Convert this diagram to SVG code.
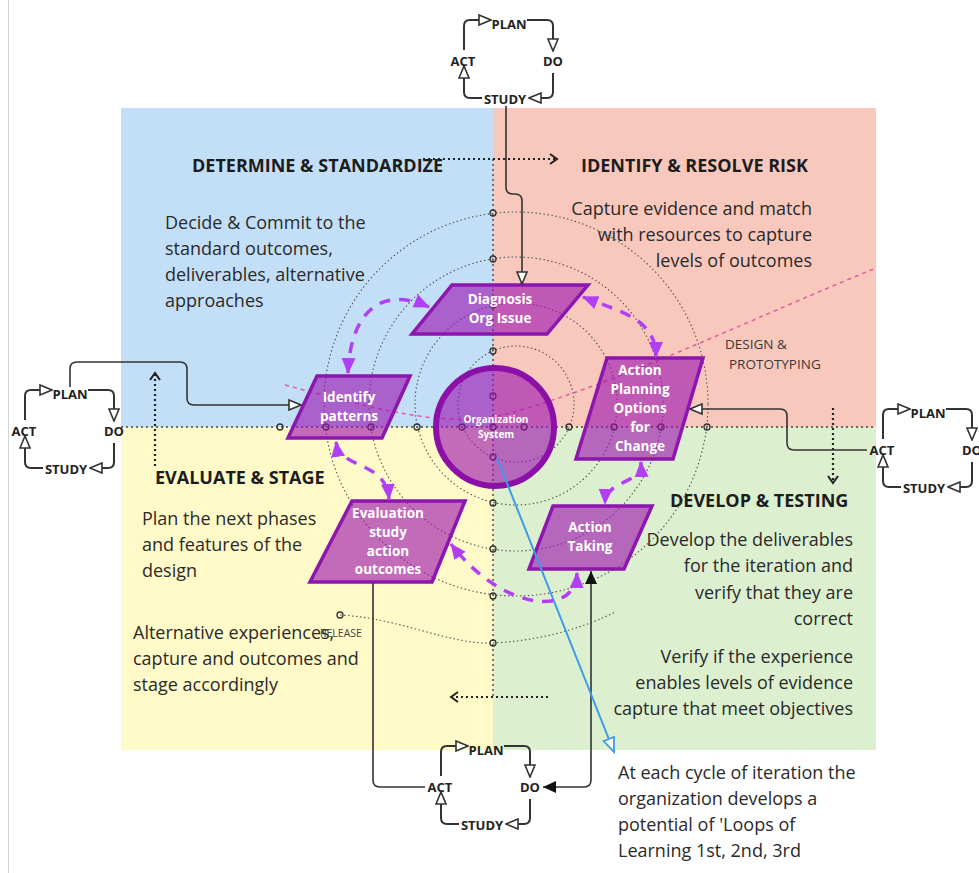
<svg xmlns="http://www.w3.org/2000/svg" width="979" height="873" viewBox="0 0 979 873">
<style>
  text { font-family: "Open Sans", "Noto Sans", "Liberation Sans", sans-serif; }
  .title { font-weight: 700; font-size: 18px; fill: #1c1c1c; }
  .body { font-size: 18px; fill: #2a2a2a; }
  .end { text-anchor: end; }
  .pdsa-line { fill: none; stroke: #333; stroke-width: 2; marker-end: url(#openTri); }
  .pdsa-text { font-weight: 700; font-size: 13px; fill: #222; text-anchor: middle; }
  .node-shape { fill: #9c14b0; fill-opacity: 0.62; stroke: #8c16ae; stroke-width: 3.5; }
  .node-text { font-weight: 700; font-size: 13.5px; fill: #fff; text-anchor: middle; }
  .ring { fill: none; stroke: #555; stroke-width: 1.1; stroke-dasharray: 1.5 2.5; }
  .axis { fill: none; stroke: #444; stroke-width: 1.4; stroke-dasharray: 2 3; }
  .axis-dot { fill: none; stroke: #333; stroke-width: 1.3; }
  .flow { fill: none; stroke: #222; stroke-width: 2.2; stroke-dasharray: 2 3; marker-end: url(#chevron); }
  .link { fill: none; stroke: #333; stroke-width: 1.6; }
  .cycle { fill: none; stroke: #b23ff5; stroke-width: 3.5; stroke-dasharray: 11 9; marker-start: url(#violetTri); marker-end: url(#violetTri); }
</style>
<defs>
  <marker id="openTri" viewBox="0 0 14 12" refX="13" refY="6" markerWidth="14" markerHeight="12" markerUnits="userSpaceOnUse" orient="auto">
    <path d="M1,1 L13,6 L1,11 z" fill="#fff" stroke="#333" stroke-width="1.6"/>
  </marker>
  <marker id="chevron" viewBox="0 0 10 12" refX="8" refY="6" markerWidth="10" markerHeight="12" markerUnits="userSpaceOnUse" orient="auto">
    <path d="M1,1 L8,6 L1,11" fill="none" stroke="#222" stroke-width="2"/>
  </marker>
  <marker id="solidTri" viewBox="0 0 14 14" refX="13" refY="7" markerWidth="14" markerHeight="14" markerUnits="userSpaceOnUse" orient="auto-start-reverse">
    <path d="M0,1 L13,7 L0,13 z" fill="#111"/>
  </marker>
  <marker id="violetTri" viewBox="0 0 16 16" refX="15" refY="8" markerWidth="16" markerHeight="16" markerUnits="userSpaceOnUse" orient="auto-start-reverse">
    <path d="M0,1 L16,8 L0,15 z" fill="#b23ff5"/>
  </marker>
  <marker id="blueTri" viewBox="0 0 17 14" refX="15" refY="7" markerWidth="17" markerHeight="14" markerUnits="userSpaceOnUse" orient="auto">
    <path d="M1,1.5 L15,7 L1,12.5 z" fill="#fff" stroke="#3d9be9" stroke-width="1.8"/>
  </marker>
</defs>

<rect width="979" height="873" fill="#fff"/>
<line x1="8.5" y1="0" x2="8.5" y2="873" stroke="#d4d4d4" stroke-width="1"/>

<!-- quadrants -->
<g id="quadrants">
  <rect x="121" y="108" width="372" height="319" fill="#c2dff7"/>
  <rect x="493" y="108" width="383" height="319" fill="#f9c8bd"/>
  <rect x="121" y="427" width="372" height="323" fill="#fffac8"/>
  <rect x="493" y="427" width="383" height="323" fill="#dcf0cf"/>
</g>

<!-- quadrant headings and notes -->
<g id="labels">
  <text class="title" x="192" y="172">DETERMINE &amp; STANDARDIZE</text>
  <text class="title" x="581" y="172">IDENTIFY &amp; RESOLVE RISK</text>
  <text class="title" x="155" y="484">EVALUATE &amp; STAGE</text>
  <text class="title" x="670" y="507">DEVELOP &amp; TESTING</text>

  <text class="body" x="165" y="229">Decide &amp; Commit to the</text>
  <text class="body" x="165" y="255">standard outcomes,</text>
  <text class="body" x="165" y="281">deliverables, alternative</text>
  <text class="body" x="165" y="307">approaches</text>

  <text class="body end" x="812" y="215">Capture evidence and match</text>
  <text class="body end" x="812" y="241">with resources to capture</text>
  <text class="body end" x="812" y="267">levels of outcomes</text>

  <text class="body" x="142" y="525">Plan the next phases</text>
  <text class="body" x="142" y="551">and features of the</text>
  <text class="body" x="142" y="577">design</text>

  <text class="body" x="133" y="639">Alternative experiences,</text>
  <text class="body" x="133" y="665">capture and outcomes and</text>
  <text class="body" x="133" y="691">stage accordingly</text>

  <text class="body end" x="853" y="546">Develop the deliverables</text>
  <text class="body end" x="853" y="572">for the iteration and</text>
  <text class="body end" x="853" y="599">verify that they are</text>
  <text class="body end" x="853" y="625">correct</text>

  <text class="body end" x="853" y="663">Verify if the experience</text>
  <text class="body end" x="853" y="689">enables levels of evidence</text>
  <text class="body end" x="853" y="715">capture that meet objectives</text>

  <text class="body" x="618" y="779">At each cycle of iteration the</text>
  <text class="body" x="618" y="805">organization develops a</text>
  <text class="body" x="618" y="831">potential of 'Loops of</text>
  <text class="body" x="618" y="857">Learning 1st, 2nd, 3rd</text>

  <text x="725" y="349" font-size="13.5" fill="#3a3a3a">DESIGN &amp;</text>
  <text x="729" y="369" font-size="13.5" fill="#3a3a3a">PROTOTYPING</text>
  <text x="320" y="637" font-size="10.5" fill="#444">RELEASE</text>
</g>

<!-- iteration rings, axes and direction guides -->
<g id="guides">
  <circle class="ring" cx="516" cy="404" r="58"/>
  <circle class="ring" cx="516" cy="404" r="101"/>
  <circle class="ring" cx="516" cy="404" r="147"/>
  <circle class="ring" cx="516" cy="404" r="192"/>
  <path class="ring" d="M340,615 C400,618 450,645 493,643 C535,641 580,630 615,612"/>

  <path class="axis" d="M121,427 H876"/>
  <path class="axis" d="M493,159 V697"/>

  <path class="flow" d="M423,159 H557"/>
  <path class="flow" d="M155,466 V373"/>
  <path class="flow" d="M833,408 V483"/>
  <path class="flow" d="M548,697 H451"/>

  <path d="M285,385 C380,410 450,430 510,413 C620,383 760,315 876,268" fill="none" stroke="#e05aa0" stroke-width="1.5" stroke-dasharray="4 4"/>

  <g class="axis-dot">
    <circle cx="280" cy="427" r="3"/>
    <circle cx="326" cy="427" r="3"/>
    <circle cx="371" cy="427" r="3"/>
    <circle cx="417" cy="427" r="3"/>
    <circle cx="462" cy="427" r="3"/>
    <circle cx="493" cy="427" r="3"/>
    <circle cx="524" cy="427" r="3"/>
    <circle cx="569" cy="427" r="3"/>
    <circle cx="614" cy="427" r="3"/>
    <circle cx="661" cy="427" r="3"/>
    <circle cx="707" cy="427" r="3"/>
    <circle cx="493" cy="213" r="3"/>
    <circle cx="493" cy="259" r="3"/>
    <circle cx="493" cy="305" r="3"/>
    <circle cx="493" cy="351" r="3"/>
    <circle cx="493" cy="396" r="3"/>
    <circle cx="493" cy="457" r="3"/>
    <circle cx="493" cy="503" r="3"/>
    <circle cx="493" cy="549" r="3"/>
    <circle cx="493" cy="596" r="3"/>
    <circle cx="493" cy="643" r="3"/>
    <circle cx="340" cy="615" r="3"/>
  </g>
</g>

<!-- PDSA loops -->
<g id="pdsa-top" transform="translate(464,20)">
  <path class="pdsa-line" d="M0,30 V6 Q0,0 6,0 H27"/>
  <path class="pdsa-line" d="M63,0 H83 Q89,0 89,6 V31"/>
  <path class="pdsa-line" d="M89,53 V72 Q89,78 83,78 H65"/>
  <path class="pdsa-line" d="M18,78 H6 Q0,78 0,72 V46"/>
  <text class="pdsa-text" x="45" y="9">PLAN</text>
  <text class="pdsa-text" x="89" y="46">DO</text>
  <text class="pdsa-text" x="41" y="84">STUDY</text>
  <text class="pdsa-text" x="-1" y="46">ACT</text>
</g>
<g id="pdsa-left" transform="translate(25,390)">
  <path class="pdsa-line" d="M0,30 V6 Q0,0 6,0 H27"/>
  <path class="pdsa-line" d="M63,0 H83 Q89,0 89,6 V31"/>
  <path class="pdsa-line" d="M89,53 V72 Q89,78 83,78 H65"/>
  <path class="pdsa-line" d="M18,78 H6 Q0,78 0,72 V46"/>
  <text class="pdsa-text" x="45" y="9">PLAN</text>
  <text class="pdsa-text" x="89" y="46">DO</text>
  <text class="pdsa-text" x="41" y="84">STUDY</text>
  <text class="pdsa-text" x="-1" y="46">ACT</text>
</g>
<g id="pdsa-right" transform="translate(883,409)">
  <path class="pdsa-line" d="M0,30 V6 Q0,0 6,0 H27"/>
  <path class="pdsa-line" d="M63,0 H83 Q89,0 89,6 V31"/>
  <path class="pdsa-line" d="M89,53 V72 Q89,78 83,78 H65"/>
  <path class="pdsa-line" d="M18,78 H6 Q0,78 0,72 V46"/>
  <text class="pdsa-text" x="45" y="9">PLAN</text>
  <text class="pdsa-text" x="89" y="46">DO</text>
  <text class="pdsa-text" x="41" y="84">STUDY</text>
  <text class="pdsa-text" x="-1" y="46">ACT</text>
</g>
<g id="pdsa-bottom" transform="translate(441,746)">
  <path class="pdsa-line" d="M0,30 V6 Q0,0 6,0 H27"/>
  <path class="pdsa-line" d="M63,0 H83 Q89,0 89,6 V31"/>
  <path class="pdsa-line" d="M89,53 V72 Q89,78 83,78 H65"/>
  <path class="pdsa-line" d="M18,78 H6 Q0,78 0,72 V46"/>
  <text class="pdsa-text" x="45" y="9">PLAN</text>
  <text class="pdsa-text" x="89" y="46">DO</text>
  <text class="pdsa-text" x="41" y="84">STUDY</text>
  <text class="pdsa-text" x="-1" y="46">ACT</text>
</g>

<!-- process nodes -->
<g id="organization-system">
  <circle cx="495" cy="427" r="59" fill="#9c14b0" fill-opacity="0.62" stroke="#8a10a8" stroke-width="6"/>
  <text x="496" y="423" font-size="10" font-weight="700" fill="#fff" text-anchor="middle">Organization</text>
  <text x="496" y="438" font-size="10" font-weight="700" fill="#fff" text-anchor="middle">System</text>
</g>
<g id="diagnosis">
  <polygon class="node-shape" points="452,285 588,285 547,334 412,334"/>
  <text class="node-text" x="500" y="304">Diagnosis</text>
  <text class="node-text" x="500" y="323">Org Issue</text>
</g>
<g id="identify-patterns">
  <polygon class="node-shape" points="317,376 410,376 382,438 288,438"/>
  <text class="node-text" x="349" y="402">Identify</text>
  <text class="node-text" x="349" y="421">patterns</text>
</g>
<g id="action-planning">
  <polygon class="node-shape" points="607,358 703,358 673,459 576,459"/>
  <text class="node-text" x="640" y="375">Action</text>
  <text class="node-text" x="640" y="394">Planning</text>
  <text class="node-text" x="640" y="413">Options</text>
  <text class="node-text" x="640" y="432">for</text>
  <text class="node-text" x="640" y="451">Change</text>
</g>
<g id="action-taking">
  <polygon class="node-shape" points="553,506 652,506 624,569 529,569"/>
  <text class="node-text" x="590" y="532">Action</text>
  <text class="node-text" x="590" y="551">Taking</text>
</g>
<g id="evaluation">
  <polygon class="node-shape" points="352,501 465,501 432,582 310,582"/>
  <text class="node-text" x="388" y="518">Evaluation</text>
  <text class="node-text" x="388" y="537">study</text>
  <text class="node-text" x="388" y="556">action</text>
  <text class="node-text" x="388" y="574">outcomes</text>
</g>

<!-- connectors -->
<g id="connectors">
  <path class="link" d="M506,106 V187 Q506,194 513,194 H515 Q522,194 522,201 V284" marker-end="url(#openTri)"/>
  <path class="link" d="M70,387 V369 Q70,362 77,362 H180 Q187,362 187,369 V398 Q187,405 194,405 H301" marker-end="url(#openTri)"/>
  <path class="link" d="M867,450 H794 Q787,450 787,443 V416 Q787,409 780,409 H690" marker-end="url(#openTri)"/>
  <path class="link" d="M591,571 V780 Q591,787 584,787 H543" marker-start="url(#solidTri)" marker-end="url(#solidTri)"/>
  <path class="link" d="M373,583 V780 Q373,787 380,787 H425"/>
  <path d="M497,458 L614,752" fill="none" stroke="#3d9be9" stroke-width="2" marker-end="url(#blueTri)"/>

  <path class="cycle" d="M348,373 C350,320 375,283 429,307"/>
  <path class="cycle" d="M583,297 C620,312 656,318 656,357"/>
  <path class="cycle" d="M641,462 C642,486 606,478 605,504"/>
  <path class="cycle" d="M577,573 C576,617 503,612 451,544"/>
  <path class="cycle" d="M336,442 C340,470 386,460 389,499"/>
</g>
</svg>
